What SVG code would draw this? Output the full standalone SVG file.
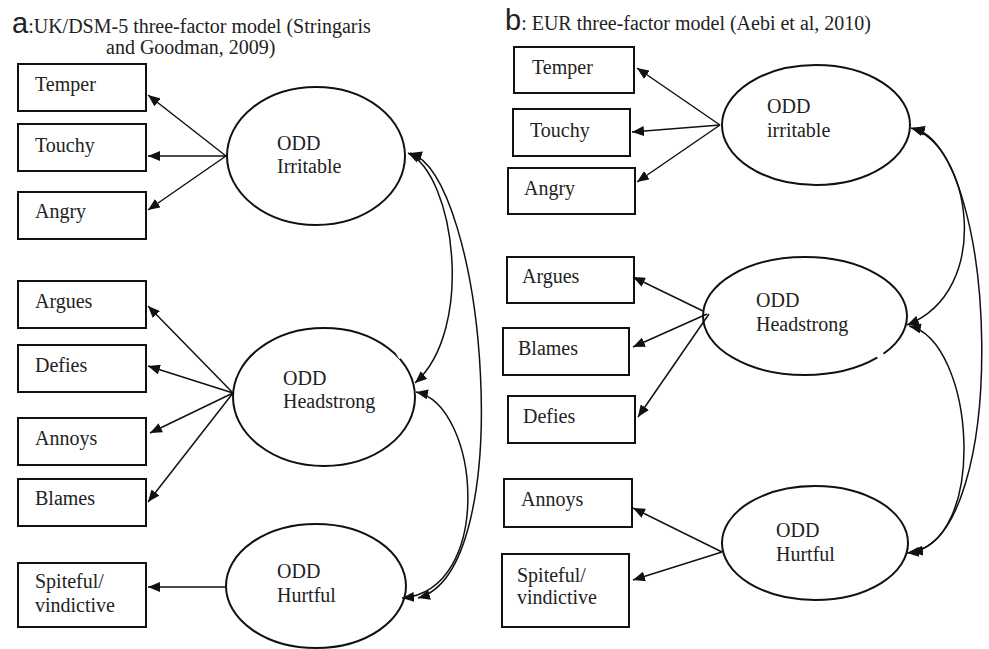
<svg xmlns="http://www.w3.org/2000/svg" width="989" height="649" viewBox="0 0 989 649" font-family="'Liberation Serif', 'Times New Roman', serif">
<defs>
<style>
.box{fill:#fff;stroke:#111;stroke-width:2}
.lat{fill:#fff;stroke:#111;stroke-width:2}
text{font-family:'Liberation Serif','Times New Roman',serif;fill:#222}
.t{font-size:20px}
.ttl{font-size:20px}
.big{font-family:'Liberation Sans',Arial,sans-serif;font-size:29px}
.c{fill:none;stroke:#111;stroke-width:1.5}
.gap{stroke:#fff;stroke-width:4}
</style>
<marker id="ah" viewBox="0 0 12 10" refX="12" refY="5" markerWidth="12" markerHeight="10" markerUnits="userSpaceOnUse" orient="auto-start-reverse">
<path d="M0,0 L12,5 L0,10 z" fill="#111"/>
</marker>
</defs>
<rect width="989" height="649" fill="#fff"/>

<g id="title-a">
<text x="12" y="33"><tspan class="big">a</tspan><tspan class="ttl" font-family="'Liberation Serif', serif">:UK/DSM-5 three-factor model (Stringaris</tspan></text>
<text class="ttl" x="106" y="54">and Goodman, 2009)</text>
</g>
<g id="title-b">
<text x="505" y="30"><tspan class="big">b</tspan><tspan class="ttl" font-family="'Liberation Serif', serif">: EUR three-factor model (Aebi et al, 2010)</tspan></text>
</g>

<g font-family="'Liberation Serif', serif">
<!-- Panel a nodes -->
<g id="a-temper"><rect class="box" x="18" y="64" width="128" height="47"/><text class="t" x="35" y="91">Temper</text></g>
<g id="a-touchy"><rect class="box" x="18" y="124" width="128" height="47"/><text class="t" x="35" y="152">Touchy</text></g>
<g id="a-angry"><rect class="box" x="18" y="192" width="128" height="47"/><text class="t" x="35" y="218">Angry</text></g>
<g id="a-argues"><rect class="box" x="18" y="281" width="128" height="47"/><text class="t" x="35" y="308">Argues</text></g>
<g id="a-defies"><rect class="box" x="18" y="345" width="128" height="47"/><text class="t" x="35" y="372">Defies</text></g>
<g id="a-annoys"><rect class="box" x="18" y="418" width="128" height="47"/><text class="t" x="35" y="445">Annoys</text></g>
<g id="a-blames"><rect class="box" x="18" y="479" width="128" height="47"/><text class="t" x="35" y="505">Blames</text></g>
<g id="a-spiteful"><rect class="box" x="18" y="563" width="128" height="64"/><text class="t" x="35" y="588">Spiteful/</text><text class="t" x="35" y="612">vindictive</text></g>

<g id="a-irritable"><ellipse class="lat" cx="316" cy="156" rx="89" ry="69"/><text class="t" x="277" y="150">ODD</text><text class="t" x="277" y="173">Irritable</text></g>
<g id="a-headstrong"><ellipse class="lat" cx="324" cy="397" rx="91" ry="69"/><line class="gap" x1="398" y1="353" x2="401" y2="358"/><text class="t" x="283" y="385">ODD</text><text class="t" x="283" y="408">Headstrong</text></g>
<g id="a-hurtful"><ellipse class="lat" cx="316" cy="586" rx="90" ry="62"/><text class="t" x="277" y="578">ODD</text><text class="t" x="277" y="602">Hurtful</text></g>

<!-- Panel b nodes -->
<g id="b-temper"><rect class="box" x="514" y="47" width="120" height="46"/><text class="t" x="532" y="74">Temper</text></g>
<g id="b-touchy"><rect class="box" x="513" y="109" width="117" height="47"/><text class="t" x="530" y="137">Touchy</text></g>
<g id="b-angry"><rect class="box" x="508" y="168" width="127" height="46"/><text class="t" x="524" y="195">Angry</text></g>
<g id="b-argues"><rect class="box" x="507" y="257" width="127" height="46"/><text class="t" x="522" y="283">Argues</text></g>
<g id="b-blames"><rect class="box" x="503" y="328" width="126" height="47"/><text class="t" x="518" y="355">Blames</text></g>
<g id="b-defies"><rect class="box" x="508" y="396" width="127" height="47"/><text class="t" x="523" y="423">Defies</text></g>
<g id="b-annoys"><rect class="box" x="504" y="479" width="128" height="48"/><text class="t" x="521" y="506">Annoys</text></g>
<g id="b-spiteful"><rect class="box" x="502" y="554" width="127" height="73"/><text class="t" x="517" y="582">Spiteful/</text><text class="t" x="517" y="604">vindictive</text></g>

<g id="b-irritable"><ellipse class="lat" cx="816" cy="125" rx="94" ry="60"/><text class="t" x="767" y="113">ODD</text><text class="t" x="767" y="137">irritable</text></g>
<g id="b-headstrong"><ellipse class="lat" cx="805" cy="316" rx="102" ry="59"/><line class="gap" x1="877" y1="357" x2="883" y2="353"/><text class="t" x="756" y="307">ODD</text><text class="t" x="756" y="331">Headstrong</text></g>
<g id="b-hurtful"><ellipse class="lat" cx="815" cy="543" rx="93" ry="57"/><text class="t" x="776" y="537">ODD</text><text class="t" x="776" y="561">Hurtful</text></g>
</g>

<g id="connectors">
<!-- panel a loadings -->
<path class="c" d="M226,156 L148,95" marker-end="url(#ah)"/>
<path class="c" d="M226,156 L148,156" marker-end="url(#ah)"/>
<path class="c" d="M226,156 L148,210" marker-end="url(#ah)"/>
<path class="c" d="M233,393 L148,306" marker-end="url(#ah)"/>
<path class="c" d="M233,393 L148,366" marker-end="url(#ah)"/>
<path class="c" d="M233,393 L150,433" marker-end="url(#ah)"/>
<path class="c" d="M233,393 L148,502" marker-end="url(#ah)"/>
<path class="c" d="M226,587 L148,587" marker-end="url(#ah)"/>
<!-- panel a correlations -->
<path class="c" d="M408,153 C455,175 475,330 415,383" marker-start="url(#ah)" marker-end="url(#ah)"/>
<path class="c" d="M410,153 C485,175 520,570 418,598" marker-start="url(#ah)" marker-end="url(#ah)"/>
<path class="c" d="M416,392 C480,405 495,590 402,598" marker-start="url(#ah)" marker-end="url(#ah)"/>
<!-- panel b loadings -->
<path class="c" d="M720,125 L637,68" marker-end="url(#ah)"/>
<path class="c" d="M720,125 L632,132" marker-end="url(#ah)"/>
<path class="c" d="M720,125 L637,182" marker-end="url(#ah)"/>
<path class="c" d="M703,311 L633,277" marker-end="url(#ah)"/>
<path class="c" d="M707,314 L633,347" marker-end="url(#ah)"/>
<path class="c" d="M709,314 L638,417" marker-end="url(#ah)"/>
<path class="c" d="M722,552 L633,508" marker-end="url(#ah)"/>
<path class="c" d="M722,552 L633,580" marker-end="url(#ah)"/>
<!-- panel b correlations -->
<path class="c" d="M911,128 C970,145 995,290 907,325" marker-start="url(#ah)" marker-end="url(#ah)"/>
<path class="c" d="M913,128 C1000,150 1010,540 911,552" marker-start="url(#ah)" marker-end="url(#ah)"/>
<path class="c" d="M909,326 C975,340 990,545 907,553" marker-start="url(#ah)" marker-end="url(#ah)"/>
</g>
</svg>
